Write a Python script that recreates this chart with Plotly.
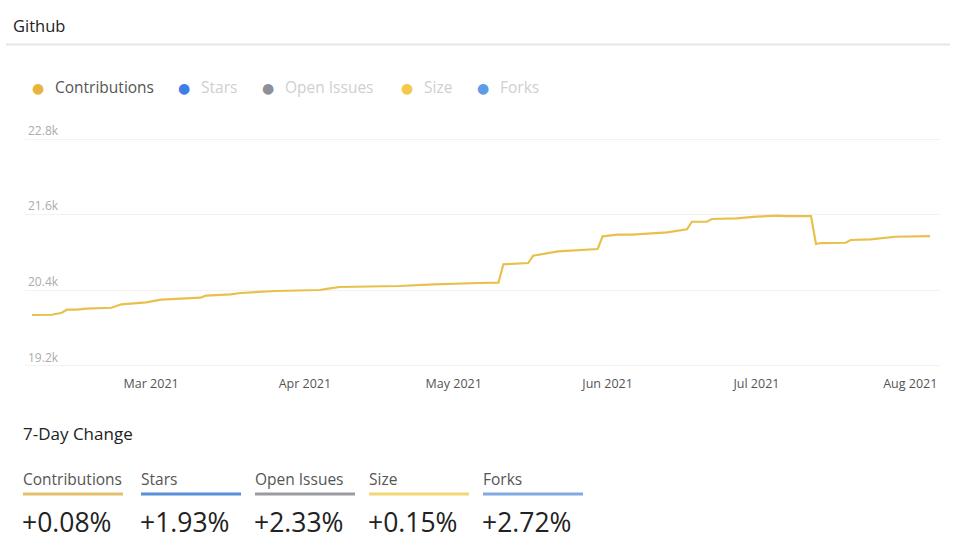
import plotly.graph_objects as go

# ---------------- data ----------------
dates = [
    "2021-02-05", "2021-02-09", "2021-02-11", "2021-02-12", "2021-02-14", "2021-02-16",
    "2021-02-21", "2021-02-23", "2021-02-28", "2021-03-03", "2021-03-11", "2021-03-12",
    "2021-03-17", "2021-03-19", "2021-03-26", "2021-04-04", "2021-04-06", "2021-04-08",
    "2021-04-20", "2021-04-27", "2021-05-06", "2021-05-10", "2021-05-11", "2021-05-16",
    "2021-05-17", "2021-05-22", "2021-05-30", "2021-05-31", "2021-06-03", "2021-06-06",
    "2021-06-13", "2021-06-17", "2021-06-18", "2021-06-21", "2021-06-22", "2021-06-27",
    "2021-07-01", "2021-07-05", "2021-07-07", "2021-07-12", "2021-07-13", "2021-07-14",
    "2021-07-19", "2021-07-20", "2021-07-24", "2021-07-29", "2021-08-05",
]
contributions = [
    20009, 20013, 20045, 20093, 20095, 20109,
    20124, 20178, 20210, 20251, 20283, 20315,
    20337, 20358, 20389, 20405, 20432, 20453,
    20469, 20496, 20516, 20521, 20813, 20833,
    20949, 21019, 21055, 21257, 21282, 21285,
    21320, 21368, 21488, 21490, 21531, 21542,
    21568, 21584, 21576, 21579, 21135, 21150,
    21155, 21198, 21209, 21250, 21261,
]
y_ticks = [19200, 20400, 21600, 22800]
y_tick_labels = ["19.2k", "20.4k", "21.6k", "22.8k"]

legend_names = ["Contributions", "Stars", "Open Issues", "Size", "Forks"]
legend_colors = ["#E8B43C", "#3F7EE8", "#8C9099", "#F2C94C", "#5E9CE6"]
change_names = ["Contributions", "Stars", "Open Issues", "Size", "Forks"]
change_values = ["+0.08%", "+1.93%", "+2.33%", "+0.15%", "+2.72%"]
change_colors = ["#E2C26E", "#5A8FDA", "#9B9BA1", "#F1D774", "#82AAE2"]

# ---------------- layout geometry (pixels) ----------------
W, H = 960, 548
L, R, T, B = 25, 20, 138, 181
PW = W - L - R
PH = H - T - B
FONT = "Open Sans"


def px(x):
    return (x - L) / PW


def py(y):
    return (H - B - y) / PH


fig = go.Figure()
fig.add_trace(go.Scatter(
    x=dates, y=contributions, mode="lines", name="Contributions",
    line=dict(color="#E8C04C", width=2.2), hoverinfo="x+y", showlegend=False,
))

annotations = []
shapes = []

# title
annotations.append(dict(x=px(11), y=py(25), xref="paper", yref="paper", text="Github",
                        showarrow=False, xanchor="left", yanchor="middle",
                        font=dict(family=FONT, size=16.5, color="#222222")))
shapes.append(dict(type="line", xref="paper", yref="paper", x0=px(6), x1=px(950),
                   y0=py(44.5), y1=py(44.5), line=dict(color="#E6E6E6", width=2)))

# custom legend
legend_x = [38, 184, 268, 407, 483]
for i, (n, c, lx) in enumerate(zip(legend_names, legend_colors, legend_x)):
    annotations.append(dict(x=px(lx), y=py(88), xref="paper", yref="paper", text="●",
                            showarrow=False, xanchor="center", yanchor="middle",
                            font=dict(family="DejaVu Sans", size=14, color=c)))
    annotations.append(dict(x=px(lx + 15), y=py(87), xref="paper", yref="paper", text=n,
                            showarrow=False, xanchor="left", yanchor="middle",
                            font=dict(family=FONT, size=15.5,
                                      color="#555555" if i == 0 else "#CFCFCF")))

# 7-day change section
annotations.append(dict(x=px(21), y=py(433), xref="paper", yref="paper", text="7-Day Change",
                        showarrow=False, xanchor="left", yanchor="middle",
                        font=dict(family=FONT, size=17, color="#222222")))
col_x = [23, 141, 255, 369, 483]
for n, v, c, cx in zip(change_names, change_values, change_colors, col_x):
    annotations.append(dict(x=px(cx - 2), y=py(479), xref="paper", yref="paper", text=n,
                            showarrow=False, xanchor="left", yanchor="middle",
                            font=dict(family=FONT, size=15.5, color="#555555")))
    shapes.append(dict(type="line", xref="paper", yref="paper", x0=px(cx), x1=px(cx + 100),
                       y0=py(494), y1=py(494), line=dict(color=c, width=3)))
    annotations.append(dict(x=px(cx - 3), y=py(522), xref="paper", yref="paper", text=v,
                            showarrow=False, xanchor="left", yanchor="middle",
                            font=dict(family=FONT, size=26.5, color="#222222")))

fig.update_layout(
    width=W, height=H,
    margin=dict(l=L, r=R, t=T, b=B, pad=0),
    paper_bgcolor="white", plot_bgcolor="white",
    showlegend=False,
    annotations=annotations, shapes=shapes,
    xaxis=dict(
        type="date", range=["2021-02-03 14:00", "2021-08-07"],
        dtick="M1", tick0="2021-01-01", tickformat="%b %Y",
        showgrid=False, zeroline=False, showline=False, ticks="",
        ticklabelstandoff=7,
        tickfont=dict(family=FONT, size=12.5, color="#555555"),
    ),
    yaxis=dict(
        range=[19184, 22816], tickvals=y_ticks, ticktext=y_tick_labels,
        ticklabelposition="inside top", ticklabeloverflow="allow",
        showgrid=True, gridcolor="#F2F2F2", gridwidth=1,
        zeroline=False, showline=False, ticks="",
        tickfont=dict(family=FONT, size=12, color="#ABABAB"),
    ),
)

fig.write_html("out.html", config={"displayModeBar": False},
               post_script="document.body.style.margin='0';")
